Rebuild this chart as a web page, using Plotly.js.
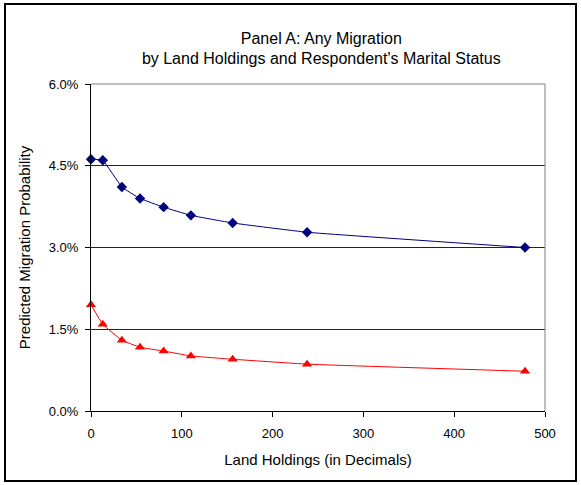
<!DOCTYPE html>
<html>
<head>
<meta charset="utf-8">
<script src="https://cdn.plot.ly/plotly-3.0.1.min.js"></script>
<style>html,body{margin:0;padding:0;background:#fff;}#chart{width:581px;height:485px;}</style>
</head>
<body>
<div id="chart"></div>
<script>
const landHoldings = [0, 13, 34, 54, 80, 110, 156, 238, 478];
const marriedSeries = [4.62, 4.60, 4.11, 3.90, 3.74, 3.59, 3.45, 3.28, 3.00];
const unmarriedSeries = [1.95, 1.59, 1.30, 1.17, 1.10, 1.01, 0.95, 0.86, 0.73];
const yTicks = [0, 1.5, 3.0, 4.5, 6.0];
const xTicks = [0, 100, 200, 300, 400, 500];

const font = 'Liberation Sans, Arial, sans-serif';

const traces = [
  {
    x: landHoldings, y: marriedSeries, type: 'scatter', mode: 'lines+markers',
    line: {color: '#000080', width: 1, shape: 'spline', smoothing: 0.3},
    marker: {symbol: 'diamond', size: 8, color: '#000080'},
    showlegend: false, cliponaxis: false
  },
  {
    x: landHoldings, y: unmarriedSeries, type: 'scatter', mode: 'lines+markers',
    line: {color: '#FF0000', width: 1, shape: 'spline', smoothing: 0.3},
    marker: {symbol: 'triangle-up', size: 9, color: '#FF0000'},
    showlegend: false, cliponaxis: false
  }
];

const layout = {
  width: 581, height: 485,
  margin: {l: 91, r: 36, t: 84, b: 74},
  paper_bgcolor: '#fff', plot_bgcolor: '#fff',
  font: {family: font, color: '#000', size: 13},
  title: {
    text: 'Panel A: Any Migration<br>by Land Holdings and Respondent\'s Marital Status',
    font: {family: font, size: 16, color: '#000'},
    x: 0.553, xanchor: 'center', y: 0.91, yanchor: 'top'
  },
  xaxis: {
    range: [0, 500], tickvals: xTicks, ticktext: xTicks.map(String),
    showgrid: false, zeroline: false,
    showline: true, linecolor: '#000', linewidth: 1,
    ticks: 'outside', ticklen: 5, tickcolor: '#000',
    ticklabelstandoff: 5,
    tickfont: {family: font, size: 13},
    title: {text: 'Land Holdings (in Decimals)', font: {family: font, size: 15}, standoff: 14}
  },
  yaxis: {
    range: [0, 6], tickvals: yTicks, ticktext: yTicks.map(v => v.toFixed(1) + '%'),
    showgrid: true, gridcolor: '#222', gridwidth: 1, zeroline: false,
    showline: true, linecolor: '#000', linewidth: 1,
    ticks: 'outside', ticklen: 5, tickcolor: '#000',
    ticklabelstandoff: 4,
    tickfont: {family: font, size: 13},
    title: {text: 'Predicted Migration Probability', font: {family: font, size: 15}, standoff: 14}
  },
  shapes: [
    {type: 'line', xref: 'paper', yref: 'paper', x0: 0, x1: 1, y0: 1, y1: 1, line: {color: '#808080', width: 1}},
    {type: 'line', xref: 'paper', yref: 'paper', x0: 1, x1: 1, y0: 0, y1: 1, line: {color: '#808080', width: 1}},
    {type: 'rect', xref: 'paper', yref: 'paper',
     x0: (5 - 91) / 454, x1: (576 - 91) / 454,
     y0: (411 - 481) / 327, y1: (411 - 4) / 327,
     line: {color: '#000', width: 2}, fillcolor: 'rgba(0,0,0,0)', layer: 'below'}
  ]
};

Plotly.newPlot('chart', traces, layout, {displayModeBar: false, staticPlot: true});
</script>
</body>
</html>
